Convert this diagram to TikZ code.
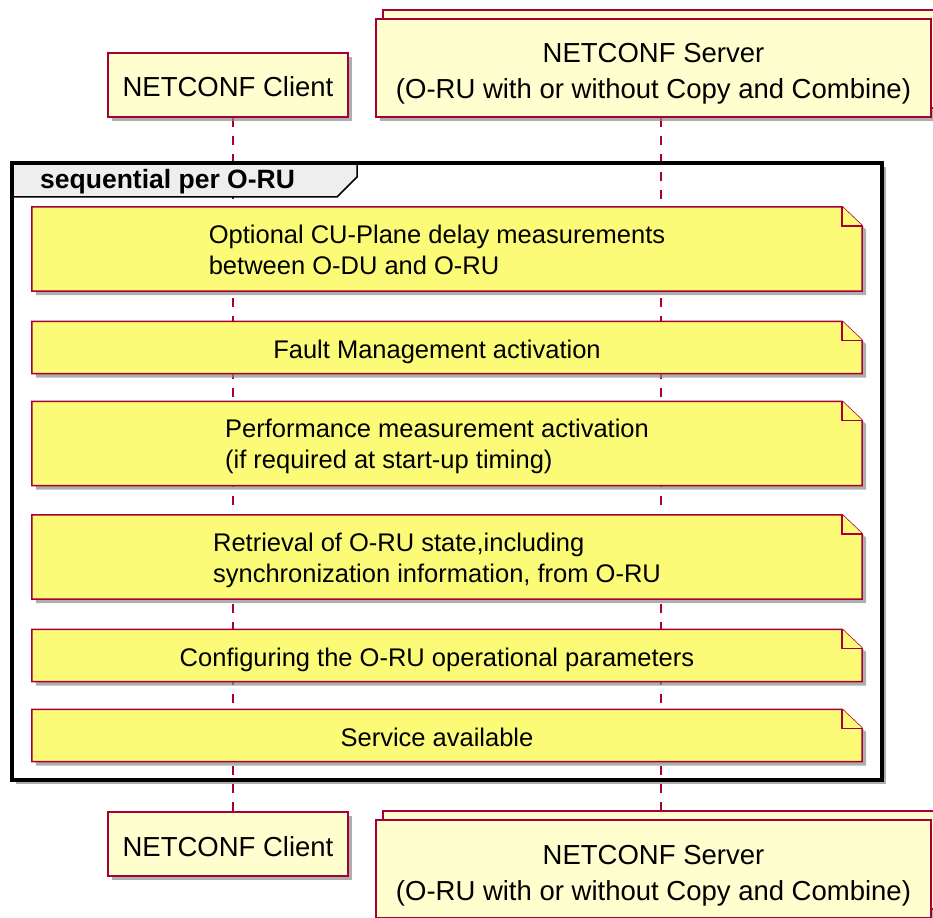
\documentclass[tikz,border=0pt]{standalone}
\usepackage{fontspec}
\setmainfont{Liberation Sans}
\usetikzlibrary{shadows,backgrounds}

\definecolor{umlred}{HTML}{A80036}
\definecolor{partfill}{HTML}{FEFECE}
\definecolor{notefill}{HTML}{FBFB77}
\definecolor{tabfill}{HTML}{EEEEEE}

\newcommand{\notefold}[1]{%
  \filldraw[noteedge,umlshadow] (#1.north west) -- (#1.north east) -- ([shift={(20pt,-19pt)}]#1.north east)
    -- ([xshift=20pt]#1.south east) -- (#1.south west) -- cycle;
  \draw[noteedge] (#1.north east) -- ++(0,19) -- ++(20,0);
}

\begin{document}
\begin{tikzpicture}[x=1pt,y=-1pt]
  \tikzstyle{umlshadow}=[drop shadow={shadow xshift=4pt,shadow yshift=-4pt,fill=black!45,opacity=.7}]
  \tikzstyle{part}=[draw=umlred,fill=partfill,line width=2pt,align=center,umlshadow,text depth=0pt,font=\fontsize{27.5}{36}\selectfont]
  \tikzstyle{client}=[part,minimum width=240pt,minimum height=64pt,text height=24pt]
  \tikzstyle{server}=[part,minimum width=555pt,minimum height=98pt,text height=62pt,copy shadow={shadow xshift=7pt,shadow yshift=9pt}]
  \tikzstyle{note}=[minimum width=810pt,inner sep=0pt,align=left,text depth=0pt,font=\fontsize{25.5}{31}\selectfont]
  \tikzstyle{oneline}=[note,minimum height=52pt,text height=21pt]
  \tikzstyle{twoline}=[note,minimum height=84pt,text height=50pt]
  \tikzstyle{noteedge}=[draw=umlred,fill=notefill,line width=1.5pt,line join=miter]
  \tikzstyle{lifeline}=[umlred,line width=1.5pt,dash pattern=on 9pt off 9pt]
  \useasboundingbox (0,0) rectangle (933,917);

  \node[client] (cli) at (228,85) {NETCONF Client};
  \node[server] (srv) at (653.5,68) {NETCONF Server\\(O-RU with or without Copy and Combine)};
  \node[client] (clib) at (228,844) {NETCONF Client};
  \node[server] (srvb) at (653.5,869) {NETCONF Server\\(O-RU with or without Copy and Combine)};

  \node[twoline] (n1) at (437,249) {Optional CU-Plane delay measurements\\between O-DU and O-RU};
  \node[oneline] (n2) at (437,347.5) {Fault Management activation};
  \node[twoline] (n3) at (437,443.5) {Performance measurement activation\\(if required at start-up timing)};
  \node[twoline] (n4) at (437,557) {Retrieval of O-RU state,including\\synchronization information, from O-RU};
  \node[oneline] (n5) at (437,655.5) {Configuring the O-RU operational parameters};
  \node[oneline] (n6) at (437,735.5) {Service available};

  \begin{scope}[on background layer]
    \fill[white,umlshadow] (12,163) rectangle (882,780);
    \draw[lifeline] ([xshift=5pt]cli.south) -- ([xshift=5pt]clib.north);
    \draw[lifeline] ([xshift=7.5pt]srv.south) -- ([xshift=7.5pt]srvb.north);
    \foreach \n in {n1,n2,n3,n4,n5,n6} {\notefold{\n}}
  \end{scope}

  \filldraw[fill=tabfill,draw=black,line width=1.5pt] (12,163) -- (357,163) -- (357,177) -- (337,197) -- (12,197) -- cycle;
  \draw[black,line width=4pt] (12,163) rectangle (882,780);
  \node[anchor=base west,inner sep=0pt,font=\fontsize{26.5}{30}\selectfont\bfseries] (grp) at (40,189) {sequential per O-RU};
\end{tikzpicture}
\end{document}
